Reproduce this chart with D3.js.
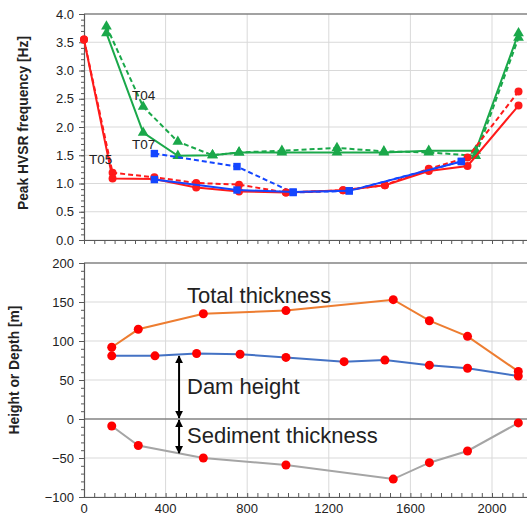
<!DOCTYPE html>
<html>
<head>
<meta charset="utf-8">
<script src="https://cdn.jsdelivr.net/npm/d3@7"></script>
<style>
  body { margin: 0; background: #fff; }
  text { font-family: "Liberation Sans", Arial, sans-serif; fill: #222; }
</style>
</head>
<body>
<div class="chart"></div>
<script>
// Top panel: peak HVSR frequency along the profile
var t05X = [0, 140, 345, 550, 760, 990, 1270, 1475, 1690, 1880, 2130];
var t05Solid = [3.55, 1.09, 1.08, 0.93, 0.86, 0.84, 0.88, 0.97, 1.22, 1.31, 2.38];
var t05Dashed = [3.55, 1.19, 1.11, 1.01, 0.98, 0.84, 0.88, 0.97, 1.26, 1.46, 2.63];

var t07X = [345, 750, 1025, 1300, 1850];
var t07Solid = [1.07, 0.885, 0.85, 0.87, 1.39];
var t07Dashed = [1.53, 1.30, 0.84, 0.87, 1.39];

var t04X = [110, 290, 460, 630, 760, 970, 1240, 1470, 1690, 1920, 2130];
var t04Solid = [3.66, 1.90, 1.49, 1.50, 1.55, 1.55, 1.55, 1.55, 1.58, 1.58, 3.66];
var t04Dashed = [3.78, 2.36, 1.74, 1.50, 1.55, 1.58, 1.63, 1.57, 1.55, 1.49, 3.58];

var topLabels = [{name: "T04", x: 235, y: 2.48}, {name: "T07", x: 235, y: 1.61}, {name: "T05", x: 25, y: 1.35}];

// Bottom panel: heights and depths
var totalX = [136, 266, 585, 990, 1516, 1693, 1880, 2129];
var totalY = [92, 115, 135, 139, 153, 126, 106, 61];
var damX = [136, 348, 552, 765, 990, 1275, 1475, 1693, 1880, 2129];
var damY = [81, 81, 84, 83, 79, 73.5, 75.5, 69, 65, 55];
var sedX = [136, 266, 585, 990, 1516, 1693, 1880, 2129];
var sedY = [-9, -34, -50, -59, -77, -56, -41, -5];

var arrowX = 466;
var damArrow = [82, 0];
var sedArrow = [0, -45];

var bottomLabels = [{name: "Total thickness", y: 149}, {name: "Dam height", y: 32}, {name: "Sediment thickness", y: -31}];

var xTicks = [0, 400, 800, 1200, 1600, 2000];
var topTicks = [0, 0.5, 1, 1.5, 2, 2.5, 3, 3.5, 4];
var botTicks = [-100, -50, 0, 50, 100, 150, 200];

var width = 527, height = 518;
var gridColor = "#d9d9d9", axisColor = "#595959";

var svg = d3.select(".chart").append("svg")
    .attr("width", width)
    .attr("height", height);

var x = d3.scaleLinear().domain([0, 2200]).range([84, 532.8]);
var yTop = d3.scaleLinear().domain([0, 4]).range([240, 14]);
var yBot = d3.scaleLinear().domain([-100, 200]).range([497, 263]);

function zip(xs, ys) { return xs.map(function(v, i) { return [v, ys[i]]; }); }

function drawFrame(y, yTicks, minorStep, xTickDir) {
    var g = svg.append("g");
    var y0 = y.range()[0], y1 = y.range()[1];
    // grid
    g.selectAll(".hgrid").data(yTicks).enter().append("line")
        .attr("x1", x(0)).attr("x2", x(2200))
        .attr("y1", function(d) { return y(d); }).attr("y2", function(d) { return y(d); })
        .attr("stroke", gridColor).attr("stroke-width", 1);
    g.selectAll(".vgrid").data(xTicks.slice(1)).enter().append("line")
        .attr("x1", function(d) { return x(d); }).attr("x2", function(d) { return x(d); })
        .attr("y1", y0).attr("y2", y1)
        .attr("stroke", gridColor).attr("stroke-width", 1);
    // top border
    g.append("line").attr("x1", x(0)).attr("x2", x(2200)).attr("y1", y1).attr("y2", y1)
        .attr("stroke", axisColor).attr("stroke-width", 1.2);

    // y axis with minor ticks
    var yd = y.domain();
    var minor = d3.range(yd[0], yd[1] + minorStep / 2, minorStep);
    g.append("g").attr("transform", "translate(" + x(0) + ",0)")
        .call(d3.axisLeft(y).tickValues(minor).tickSize(3).tickFormat(""))
        .call(function(a) { a.select(".domain").remove(); a.selectAll("line").attr("stroke", axisColor); });
    g.append("g").attr("transform", "translate(" + x(0) + ",0)")
        .call(d3.axisLeft(y).tickValues(yTicks).tickSize(5).tickPadding(5)
            .tickFormat(minorStep < 1 ? d3.format(".1f") : d3.format("d")))
        .call(function(a) {
            a.select(".domain").attr("stroke", axisColor).attr("stroke-width", 1.2);
            a.selectAll("line").attr("stroke", axisColor);
            a.selectAll("text").attr("font-size", 13).attr("fill", "#222")
                .attr("font-family", "Liberation Sans, Arial, sans-serif");
        });

    // x axis ticks every 50
    var xMinor = d3.range(0, 2201, 50);
    var xa = d3.axisBottom(x).tickValues(xMinor).tickSizeInner(xTickDir * 4).tickSizeOuter(0).tickFormat("");
    g.append("g").attr("transform", "translate(0," + y0 + ")")
        .call(xa)
        .call(function(a) {
            a.select(".domain").attr("stroke", axisColor).attr("stroke-width", 1.2);
            a.selectAll("line").attr("stroke", axisColor);
        });
    return g;
}

drawFrame(yTop, topTicks, 0.1, 1);
var gb = drawFrame(yBot, botTicks, 10, -1);

// zero line in the bottom panel
gb.append("line").attr("x1", x(0)).attr("x2", x(2200))
    .attr("y1", yBot(0)).attr("y2", yBot(0))
    .attr("stroke", axisColor).attr("stroke-width", 1.2);

// bottom x tick labels
svg.append("g").selectAll("text").data(xTicks).enter().append("text")
    .attr("x", function(d) { return x(d); })
    .attr("y", 513)
    .attr("text-anchor", "middle")
    .attr("font-size", 13)
    .text(function(d) { return d; });

// axis titles
svg.append("text")
    .attr("transform", "translate(28," + 123 + ") rotate(-90)")
    .attr("text-anchor", "middle").attr("font-size", 13.8).attr("font-weight", "bold")
    .text("Peak HVSR frequency [Hz]");
svg.append("text")
    .attr("transform", "translate(19," + 370 + ") rotate(-90)")
    .attr("text-anchor", "middle").attr("font-size", 13.8).attr("font-weight", "bold")
    .text("Height or Depth [m]");

// ---- top series
var lineTop = d3.line().x(function(d) { return x(d[0]); }).y(function(d) { return yTop(d[1]); });

var topSeries = [
    {xs: t04X, ys: t04Dashed, color: "#1aa84a", dash: "5,3", symbol: d3.symbolTriangle, size: 50},
    {xs: t04X, ys: t04Solid, color: "#1aa84a", dash: null, symbol: d3.symbolTriangle, size: 50},
    {xs: t07X, ys: t07Dashed, color: "#1446ff", dash: "5,3", symbol: d3.symbolSquare, size: 55},
    {xs: t05X, ys: t05Dashed, color: "#ff1a1a", dash: "5,3", symbol: d3.symbolCircle, size: 50},
    {xs: t05X, ys: t05Solid, color: "#ff1a1a", dash: null, symbol: d3.symbolCircle, size: 50},
    {xs: t07X, ys: t07Solid, color: "#1446ff", dash: null, symbol: d3.symbolSquare, size: 55}
];

topSeries.forEach(function(s) {
    var pts = zip(s.xs, s.ys);
    svg.append("path").datum(pts)
        .attr("d", lineTop)
        .attr("fill", "none")
        .attr("stroke", s.color)
        .attr("stroke-width", 2)
        .attr("stroke-dasharray", s.dash);
    svg.append("g").selectAll("path").data(pts).enter().append("path")
        .attr("transform", function(d) { return "translate(" + x(d[0]) + "," + yTop(d[1]) + ")"; })
        .attr("d", d3.symbol().type(s.symbol).size(s.size))
        .attr("fill", s.color);
});

svg.append("g").selectAll("text").data(topLabels).enter().append("text")
    .attr("x", function(d) { return x(d.x); })
    .attr("y", function(d) { return yTop(d.y); })
    .attr("font-size", 13.5)
    .text(function(d) { return d.name; });

// ---- bottom series
var lineBot = d3.line().x(function(d) { return x(d[0]); }).y(function(d) { return yBot(d[1]); });

var botSeries = [
    {xs: totalX, ys: totalY, color: "#ed7d31"},
    {xs: damX, ys: damY, color: "#4472c4"},
    {xs: sedX, ys: sedY, color: "#a5a5a5"}
];

botSeries.forEach(function(s) {
    var pts = zip(s.xs, s.ys);
    svg.append("path").datum(pts)
        .attr("d", lineBot)
        .attr("fill", "none")
        .attr("stroke", s.color)
        .attr("stroke-width", 2);
    svg.append("g").selectAll("circle").data(pts).enter().append("circle")
        .attr("cx", function(d) { return x(d[0]); })
        .attr("cy", function(d) { return yBot(d[1]); })
        .attr("r", 4.5)
        .attr("fill", "#ff0000");
});

// double-headed arrows
var defs = svg.append("defs");
defs.append("marker").attr("id", "ah")
    .attr("viewBox", "0 0 10 10").attr("refX", 9).attr("refY", 5)
    .attr("markerWidth", 4).attr("markerHeight", 4)
    .attr("orient", "auto-start-reverse")
    .append("path").attr("d", "M0,0 L10,5 L0,10 z").attr("fill", "#000");

[damArrow, sedArrow].forEach(function(a) {
    svg.append("line")
        .attr("x1", x(arrowX)).attr("x2", x(arrowX))
        .attr("y1", yBot(a[0]) + 1).attr("y2", yBot(a[1]) - 1)
        .attr("stroke", "#000").attr("stroke-width", 2)
        .attr("marker-start", "url(#ah)")
        .attr("marker-end", "url(#ah)");
});

svg.append("g").selectAll("text").data(bottomLabels).enter().append("text")
    .attr("x", 187)
    .attr("y", function(d) { return yBot(d.y); })
    .attr("font-size", 22)
    .attr("fill", "#111")
    .text(function(d) { return d.name; });
</script>
</body>
</html>
